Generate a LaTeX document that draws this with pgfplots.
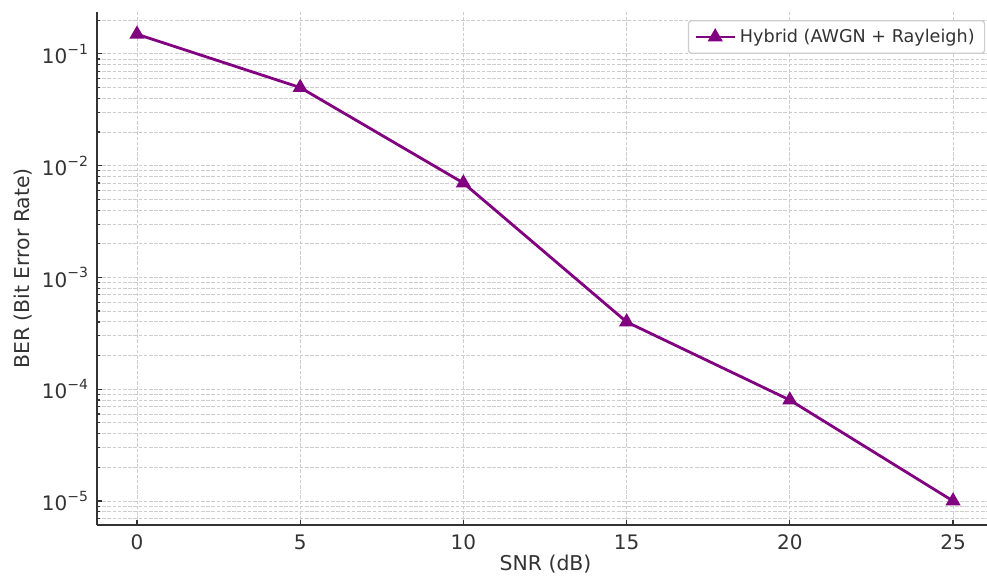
\documentclass[border=0pt]{standalone}
\usepackage{pgfplots}
\pgfplotsset{compat=1.18}
\usepackage{fontspec}
\setmainfont{DejaVu Sans}
\definecolor{ink}{RGB}{51,51,51}
\definecolor{gridc}{RGB}{205,205,205}
\definecolor{pur}{RGB}{128,0,128}
\newcommand{\tp}[1]{10\raisebox{0.85ex}{\fontsize{7}{8}\selectfont −#1}}
\begin{document}
\begin{tikzpicture}
\begin{axis}[
  name=ax,
  scale only axis, width=445pt, height=256.5pt,
  ymode=log,
  xmin=-1.225, xmax=26.04,
  ymin=6.1e-6, ymax=0.237,
  axis lines=left,
  axis line style={-, draw=ink, line width=0.9pt},
  tick align=inside,
  major tick length=2.6pt, minor tick length=1.6pt,
  tick style={draw=ink, line width=0.6pt},
  xtick={0,5,10,15,20,25},
  ytick={1e-5,1e-4,1e-3,1e-2,1e-1},
  yticklabels={\tp{5},\tp{4},\tp{3},\tp{2},\tp{1}},
  minor ytick={7e-6,8e-6,9e-6,2e-5,3e-5,4e-5,5e-5,6e-5,7e-5,8e-5,9e-5,2e-4,3e-4,4e-4,5e-4,6e-4,7e-4,8e-4,9e-4,2e-3,3e-3,4e-3,5e-3,6e-3,7e-3,8e-3,9e-3,2e-2,3e-2,4e-2,5e-2,6e-2,7e-2,8e-2,9e-2,0.2},
  /pgf/number format/assume math mode=true,
  ticklabel style={font=\fontsize{10}{12}\selectfont, text=ink},
  xticklabel style={yshift=-1.5pt},
  yticklabel style={xshift=-1pt},
  grid=both,
  major grid style={draw=gridc, dash pattern=on 1.8pt off 0.8pt, line width=0.45pt},
  minor grid style={draw=gridc, dash pattern=on 1.8pt off 0.8pt, line width=0.45pt},
  xlabel={SNR (dB)},
  ylabel={BER (Bit Error Rate)},
  label style={font=\fontsize{10.2}{12}\selectfont, text=ink},
  xlabel style={at={(axis description cs:0.504,-0.0535)}, anchor=north, inner ysep=1pt},
  ylabel style={at={(axis description cs:-0.0831,0.5)}, anchor=center, rotate=0},
  legend style={at={(rel axis cs:0.998,0.984)}, anchor=north east,
    font=\fontsize{8.8}{10}\selectfont, text=ink, draw=gridc, line width=0.6pt,
    rounded corners=1.5pt, fill=white, inner xsep=3pt, inner ysep=2pt},
  legend cell align=left,
  legend image code/.code={
    \draw[mark repeat=2,mark phase=2] plot coordinates {(0cm,0cm) (0.34cm,0cm) (0.68cm,0cm)};
  },
]
\addplot[color=pur, line width=1.4pt, mark=triangle*, mark size=3pt, mark options={solid, fill=pur}]
  coordinates {(0,0.15) (5,0.05) (10,0.007) (15,0.0004) (20,0.00008) (25,0.00001)};
\addlegendentry{Hybrid (AWGN + Rayleigh)}
\end{axis}
\pgfresetboundingbox
\path[use as bounding box] ([xshift=-48.5pt,yshift=-26.5pt]ax.south west) rectangle ([yshift=6pt]ax.north east);
\end{tikzpicture}
\end{document}
